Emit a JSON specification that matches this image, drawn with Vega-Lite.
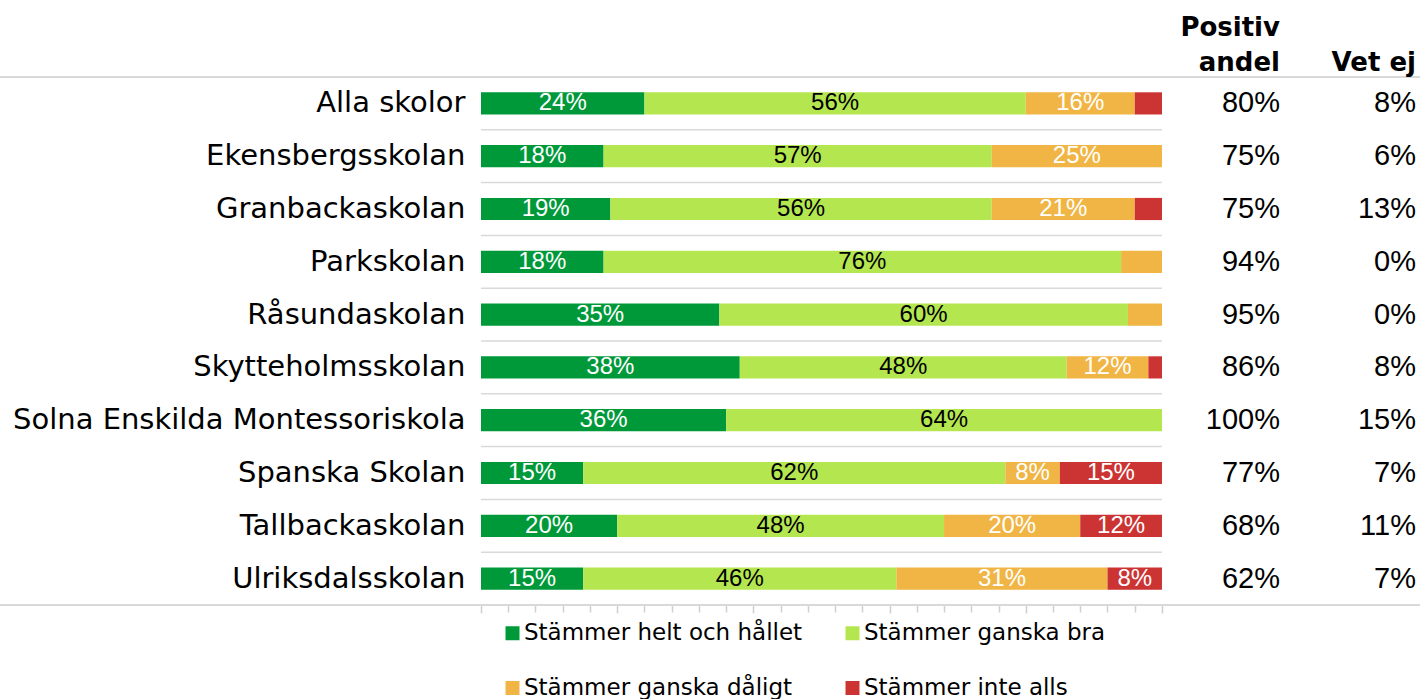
{
  "$schema": "https://vega.github.io/schema/vega-lite/v6.json",
  "width": 939,
  "height": 528,
  "autosize": {"type": "none"},
  "padding": {"left": 481, "top": 77, "right": 0, "bottom": 94},
  "background": "white",
  "config": {"view": {"stroke": null}},
  "data": {
    "values": [
      {"school": "Alla skolor", "Stämmer helt och hållet": 0.24, "Stämmer ganska bra": 0.56, "Stämmer ganska dåligt": 0.16, "Stämmer inte alls": 0.04, "positiv": 0.80, "vetej": 0.08},
      {"school": "Ekensbergsskolan", "Stämmer helt och hållet": 0.18, "Stämmer ganska bra": 0.57, "Stämmer ganska dåligt": 0.25, "Stämmer inte alls": 0.0, "positiv": 0.75, "vetej": 0.06},
      {"school": "Granbackaskolan", "Stämmer helt och hållet": 0.19, "Stämmer ganska bra": 0.56, "Stämmer ganska dåligt": 0.21, "Stämmer inte alls": 0.04, "positiv": 0.75, "vetej": 0.13},
      {"school": "Parkskolan", "Stämmer helt och hållet": 0.18, "Stämmer ganska bra": 0.76, "Stämmer ganska dåligt": 0.06, "Stämmer inte alls": 0.0, "positiv": 0.94, "vetej": 0.0},
      {"school": "Råsundaskolan", "Stämmer helt och hållet": 0.35, "Stämmer ganska bra": 0.60, "Stämmer ganska dåligt": 0.05, "Stämmer inte alls": 0.0, "positiv": 0.95, "vetej": 0.0},
      {"school": "Skytteholmsskolan", "Stämmer helt och hållet": 0.38, "Stämmer ganska bra": 0.48, "Stämmer ganska dåligt": 0.12, "Stämmer inte alls": 0.02, "positiv": 0.86, "vetej": 0.08},
      {"school": "Solna Enskilda Montessoriskola", "Stämmer helt och hållet": 0.36, "Stämmer ganska bra": 0.64, "Stämmer ganska dåligt": 0.0, "Stämmer inte alls": 0.0, "positiv": 1.0, "vetej": 0.15},
      {"school": "Spanska Skolan", "Stämmer helt och hållet": 0.15, "Stämmer ganska bra": 0.62, "Stämmer ganska dåligt": 0.08, "Stämmer inte alls": 0.15, "positiv": 0.77, "vetej": 0.07},
      {"school": "Tallbackaskolan", "Stämmer helt och hållet": 0.20, "Stämmer ganska bra": 0.48, "Stämmer ganska dåligt": 0.20, "Stämmer inte alls": 0.12, "positiv": 0.68, "vetej": 0.11},
      {"school": "Ulriksdalsskolan", "Stämmer helt och hållet": 0.15, "Stämmer ganska bra": 0.46, "Stämmer ganska dåligt": 0.31, "Stämmer inte alls": 0.08, "positiv": 0.62, "vetej": 0.07}
    ]
  },
  "encoding": {
    "y": {
      "field": "school",
      "type": "nominal",
      "scale": {
        "domain": ["Alla skolor", "Ekensbergsskolan", "Granbackaskolan", "Parkskolan", "Råsundaskolan", "Skytteholmsskolan", "Solna Enskilda Montessoriskola", "Spanska Skolan", "Tallbackaskolan", "Ulriksdalsskolan"],
        "paddingInner": 0.58,
        "paddingOuter": 0.29
      },
      "axis": {
        "title": null,
        "domain": false,
        "ticks": false,
        "grid": false,
        "labelPadding": 16,
        "labelFont": "DejaVu Sans",
        "labelFontSize": 29,
        "labelColor": "black",
        "labelLimit": 600
      }
    }
  },
  "layer": [
    {
      "transform": [{"filter": "datum.school !== 'Ulriksdalsskolan'"}],
      "mark": {"type": "rule", "color": "#d9d9d9", "strokeWidth": 1.5, "yOffset": 26.4},
      "encoding": {
        "x": {"datum": 0, "type": "quantitative", "scale": {"domain": [0, 1.3789], "nice": false, "zero": false}},
        "x2": {"datum": 1}
      }
    },
    {
      "transform": [{"filter": "datum.school === 'Alla skolor'"}],
      "mark": {"type": "rule", "color": "#d9d9d9", "strokeWidth": 2, "yOffset": -26.4},
      "encoding": {
        "x": {"datum": -0.7063, "type": "quantitative", "scale": {"domain": [0, 1.3789], "nice": false, "zero": false}},
        "x2": {"datum": 1.3789}
      }
    },
    {
      "transform": [{"filter": "datum.school === 'Ulriksdalsskolan'"}],
      "mark": {"type": "rule", "color": "#d9d9d9", "strokeWidth": 2, "yOffset": 26.4},
      "encoding": {
        "x": {"datum": -0.7063, "type": "quantitative", "scale": {"domain": [0, 1.3789], "nice": false, "zero": false}},
        "x2": {"datum": 1.3789}
      }
    },
    {
      "transform": [
        {"fold": ["Stämmer helt och hållet", "Stämmer ganska bra", "Stämmer ganska dåligt", "Stämmer inte alls"], "as": ["response", "value"]},
        {"stack": "value", "groupby": ["school"], "as": ["v0", "v1"]}
      ],
      "mark": {"type": "bar"},
      "encoding": {
        "x": {
          "field": "v0",
          "type": "quantitative",
          "scale": {"domain": [0, 1.3789], "nice": false, "zero": false},
          "axis": {
            "values": [0, 0.04, 0.08, 0.12, 0.16, 0.2, 0.24, 0.28, 0.32, 0.36, 0.4, 0.44, 0.48, 0.52, 0.56, 0.6, 0.64, 0.68, 0.72, 0.76, 0.8, 0.84, 0.88, 0.92, 0.96, 1],
            "tickCount": 40,
            "labels": false,
            "labelOverlap": false,
            "title": null,
            "domain": false,
            "grid": false,
            "ticks": true,
            "tickColor": "#cfcfcf",
            "tickWidth": 1.5,
            "tickSize": {"condition": {"test": "abs(datum.value * 5 - round(datum.value * 5)) < 0.001", "value": 8}, "value": 7}
          }
        },
        "x2": {"field": "v1"},
        "color": {
          "field": "response",
          "type": "nominal",
          "scale": {
            "domain": ["Stämmer helt och hållet", "Stämmer ganska bra", "Stämmer ganska dåligt", "Stämmer inte alls"],
            "range": ["#00993a", "#b4e650", "#f0b544", "#cc3333"]
          },
          "legend": {
            "orient": "none",
            "legendX": 20,
            "legendY": 544.5,
            "direction": "horizontal",
            "columns": 2,
            "title": null,
            "padding": 0,
            "symbolType": "square",
            "symbolSize": 196,
            "symbolStrokeWidth": 0,
            "symbolOpacity": 1,
            "labelFont": "DejaVu Sans",
            "labelFontSize": 23,
            "labelColor": "black",
            "labelOffset": 0,
            "labelLimit": 500,
            "columnPadding": 38,
            "rowPadding": 31
          }
        }
      }
    },
    {
      "transform": [
        {"fold": ["Stämmer helt och hållet", "Stämmer ganska bra", "Stämmer ganska dåligt", "Stämmer inte alls"], "as": ["response", "value"]},
        {"stack": "value", "groupby": ["school"], "as": ["v0", "v1"]},
        {"fold": ["v0", "v1"], "as": ["edge", "edgeval"]},
        {"aggregate": [{"op": "mean", "field": "edgeval", "as": "mid"}], "groupby": ["school", "response", "value"]},
        {"filter": "datum.value >= 0.07"}
      ],
      "mark": {"type": "text", "font": "Liberation Sans", "fontSize": 24, "align": "center", "baseline": "middle"},
      "encoding": {
        "x": {"field": "mid", "type": "quantitative", "scale": {"domain": [0, 1.3789], "nice": false, "zero": false}},
        "text": {"field": "value", "type": "quantitative", "format": ".0%"},
        "color": {"condition": {"test": "datum.response === 'Stämmer ganska bra'", "value": "black"}, "value": "white"}
      }
    },
    {
      "mark": {"type": "text", "font": "Liberation Sans", "fontSize": 29, "align": "right", "baseline": "middle", "color": "black"},
      "encoding": {
        "x": {"datum": 1.1733, "type": "quantitative", "scale": {"domain": [0, 1.3789], "nice": false, "zero": false}},
        "text": {"field": "positiv", "type": "quantitative", "format": ".0%"}
      }
    },
    {
      "mark": {"type": "text", "font": "Liberation Sans", "fontSize": 29, "align": "right", "baseline": "middle", "color": "black"},
      "encoding": {
        "x": {"datum": 1.373, "type": "quantitative", "scale": {"domain": [0, 1.3789], "nice": false, "zero": false}},
        "text": {"field": "vetej", "type": "quantitative", "format": ".0%"}
      }
    },
    {
      "transform": [{"filter": "datum.school === 'Alla skolor'"}],
      "mark": {"type": "text", "font": "DejaVu Sans", "fontWeight": "bold", "fontSize": 26, "align": "right", "baseline": "alphabetic", "lineHeight": 35, "yOffset": -67.4, "color": "black"},
      "encoding": {
        "x": {"datum": 1.1733, "type": "quantitative", "scale": {"domain": [0, 1.3789], "nice": false, "zero": false}},
        "text": {"value": ["Positiv", "andel"]}
      }
    },
    {
      "transform": [{"filter": "datum.school === 'Alla skolor'"}],
      "mark": {"type": "text", "font": "DejaVu Sans", "fontWeight": "bold", "fontSize": 26, "align": "right", "baseline": "alphabetic", "yOffset": -32.4, "color": "black"},
      "encoding": {
        "x": {"datum": 1.373, "type": "quantitative", "scale": {"domain": [0, 1.3789], "nice": false, "zero": false}},
        "text": {"value": "Vet ej"}
      }
    }
  ]
}
